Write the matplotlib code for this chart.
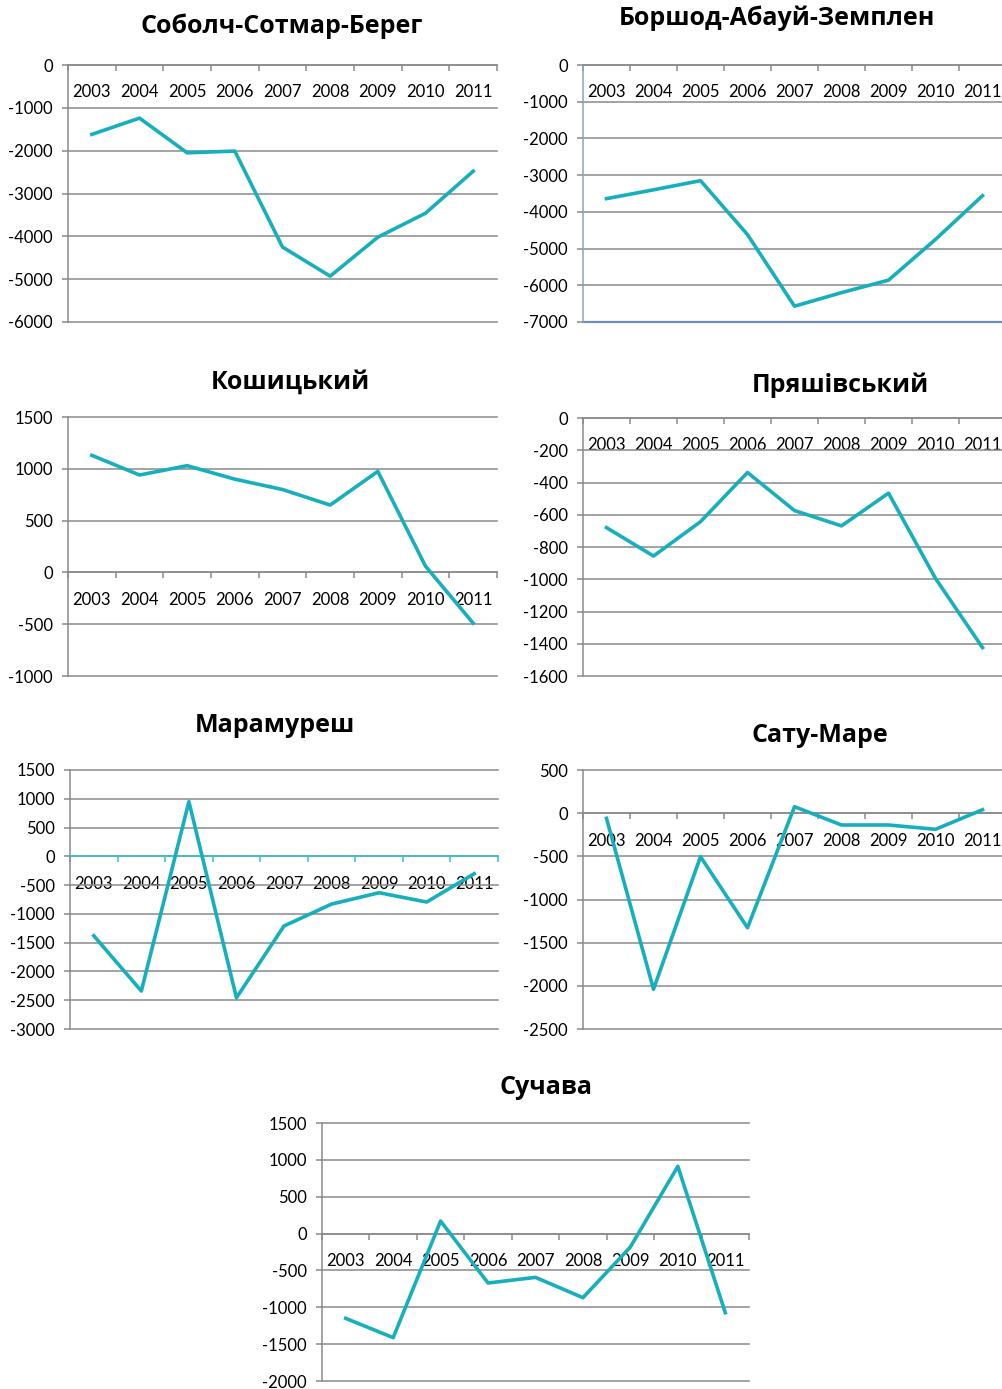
import numpy as np
import matplotlib
matplotlib.use("Agg")
import matplotlib.pyplot as plt
from matplotlib.ticker import FixedLocator, NullFormatter, FixedFormatter

plt.rcParams['font.family'] = ['Lato', 'Open Sans', 'DejaVu Sans']

years = ['2003', '2004', '2005', '2006', '2007', '2008', '2009', '2010', '2011']

sobolch = [-1620, -1240, -2050, -2010, -4250, -4930, -4020, -3460, -2480]
borshod = [-3640, -3400, -3150, -4620, -6570, -6200, -5860, -4750, -3560]
koshytskyi = [1130, 940, 1030, 900, 800, 650, 975, 60, -490]
pryashivskyi = [-680, -856, -643, -338, -574, -669, -466, -995, -1424]
maramuresh = [-1380, -2340, 950, -2457, -1210, -830, -632, -794, -302]
satu_mare = [-60, -2040, -504, -1327, 75, -137, -137, -187, 40]
suchava = [-1150, -1412, 170, -671, -594, -870, -182, 912, -1073]

titles = ['Соболч-Сотмар-Берег', 'Боршод-Абауй-Земплен', 'Кошицький',
          'Пряшівський', 'Марамуреш', 'Сату-Маре', 'Сучава']
series = [sobolch, borshod, koshytskyi, pryashivskyi, maramuresh, satu_mare, suchava]
yticks = [np.arange(-6000, 1, 1000), np.arange(-7000, 1, 1000),
          np.arange(-1000, 1501, 500), np.arange(-1600, 1, 200),
          np.arange(-3000, 1501, 500), np.arange(-2500, 501, 500),
          np.arange(-2000, 1501, 500)]

W, H = 1003, 1389
# plot areas in pixels: left, right, top, bottom
boxes = [(68, 497, 65, 322), (583, 1006, 65, 322),
         (68, 497, 417, 676), (583, 1006, 418, 676),
         (70, 498, 770, 1029), (583, 1006, 770, 1029),
         (322, 749, 1123, 1381)]
title_pos = [(282, 26), (777, 18), (290, 382), (840, 385),
             (275, 726), (820, 735), (546, 1088)]

line_color = '#17AFBC'
grid_color = '#8A8A8A'

fig = plt.figure(figsize=(W / 100, H / 100), dpi=100)

for i in range(7):
    l, r, t, b = boxes[i]
    ax = fig.add_axes([l / W, 1 - b / H, (r - l) / W, (b - t) / H])
    x = np.arange(len(years))
    ax.plot(x, series[i], color=line_color, lw=2.6, zorder=4, clip_on=False)
    ax.set_xlim(-0.5, len(years) - 0.5)
    yt = yticks[i]
    ax.set_ylim(yt[0], yt[-1])
    ax.set_yticks(yt)
    ax.set_yticklabels([str(v) for v in yt])
    ax.grid(axis='y', color=grid_color, lw=1.1, zorder=0)
    for gl in ax.get_ygridlines():
        gl.set_clip_on(False)
    ax.set_axisbelow(True)

    for s in ['top', 'right']:
        ax.spines[s].set_visible(False)
    ax.spines['left'].set_color(grid_color)
    ax.spines['left'].set_linewidth(1.1)
    ax.spines['bottom'].set_position(('data', 0))
    ax.spines['bottom'].set_color(grid_color)
    ax.spines['bottom'].set_linewidth(1.1)

    ax.xaxis.set_major_locator(FixedLocator(np.arange(-0.5, len(years), 1.0)))
    ax.xaxis.set_major_formatter(NullFormatter())
    ax.xaxis.set_minor_locator(FixedLocator(x))
    ax.xaxis.set_minor_formatter(FixedFormatter(years))
    ax.tick_params(axis='x', which='major', direction='out', length=4,
                   width=1.1, color=grid_color)
    ax.tick_params(axis='x', which='minor', length=0, pad=14,
                   labelsize=12, labelcolor='#000000')
    ax.tick_params(axis='y', direction='out', length=4, width=1.1,
                   color=grid_color, labelsize=12, labelcolor='#000000', pad=7)

    if i == 1:
        ax.spines['left'].set_color('#8EA2BE')
        ax.axhline(yt[0], color='#6F8FC0', lw=1.6, zorder=2, clip_on=False)
    if i == 4:
        ax.spines['bottom'].set_color('#2EC3CE')
        ax.tick_params(axis='x', which='major', color='#2EC3CE')

    tx, ty = title_pos[i]
    fig.text(tx / W, 1 - ty / H, titles[i], ha='center', va='center',
             fontsize=18, fontweight='bold', family=['Open Sans', 'DejaVu Sans'])

fig.savefig('out.png', dpi=100)
